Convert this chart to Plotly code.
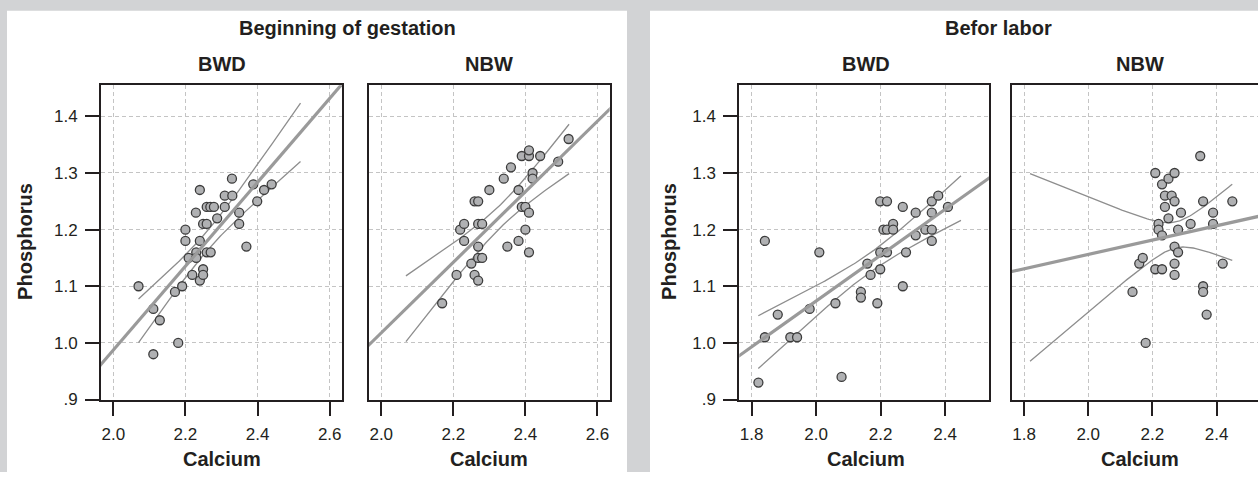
import numpy as np
import plotly.graph_objects as go

W, H = 1258, 482

# ---------------- data ----------------
# Beginning of gestation - BWD
ca_gest_bwd = [2.070, 2.111, 2.129, 2.111, 2.180, 2.171, 2.191, 2.200, 2.200, 2.209,
               2.219, 2.229, 2.240, 2.240, 2.230, 2.230, 2.240, 2.249, 2.249, 2.249,
               2.259, 2.259, 2.270, 2.259, 2.269, 2.279, 2.288, 2.309, 2.309, 2.330,
               2.329, 2.349, 2.349, 2.369, 2.388, 2.399, 2.418, 2.439]
p_gest_bwd = [1.10, 1.06, 1.04, 0.98, 1.00, 1.09, 1.10, 1.20, 1.18, 1.15,
              1.12, 1.23, 1.27, 1.18, 1.16, 1.15, 1.11, 1.13, 1.12, 1.21,
              1.21, 1.16, 1.16, 1.24, 1.24, 1.24, 1.22, 1.24, 1.26, 1.26,
              1.29, 1.23, 1.21, 1.17, 1.28, 1.25, 1.27, 1.28]

# Beginning of gestation - NBW
ca_gest_nbw = [2.169, 2.209, 2.219, 2.230, 2.230, 2.250, 2.259, 2.269, 2.269, 2.269,
               2.280, 2.269, 2.280, 2.259, 2.269, 2.300, 2.340, 2.360, 2.350, 2.381,
               2.381, 2.390, 2.400, 2.410, 2.400, 2.410, 2.390, 2.410, 2.410, 2.420,
               2.420, 2.441, 2.491, 2.520]
p_gest_nbw = [1.07, 1.12, 1.20, 1.21, 1.18, 1.14, 1.12, 1.11, 1.17, 1.15,
              1.15, 1.21, 1.21, 1.25, 1.25, 1.27, 1.29, 1.31, 1.17, 1.18,
              1.27, 1.24, 1.24, 1.23, 1.20, 1.16, 1.33, 1.33, 1.34, 1.30,
              1.29, 1.33, 1.32, 1.36]

# Before labor - BWD
ca_labor_bwd = [1.821, 1.841, 1.841, 1.881, 1.920, 1.941, 1.980, 2.010, 2.060, 2.079,
                2.139, 2.139, 2.159, 2.169, 2.190, 2.199, 2.199, 2.199, 2.220, 2.209,
                2.220, 2.220, 2.239, 2.239, 2.269, 2.269, 2.279, 2.309, 2.309, 2.339,
                2.359, 2.359, 2.359, 2.359, 2.379, 2.409]
p_labor_bwd = [0.93, 1.18, 1.01, 1.05, 1.01, 1.01, 1.06, 1.16, 1.07, 0.94,
               1.09, 1.08, 1.14, 1.12, 1.07, 1.13, 1.16, 1.25, 1.25, 1.20,
               1.20, 1.16, 1.21, 1.20, 1.24, 1.10, 1.16, 1.23, 1.19, 1.20,
               1.25, 1.23, 1.20, 1.18, 1.26, 1.24]

# Before labor - NBW
ca_labor_nbw = [2.179, 2.138, 2.159, 2.170, 2.209, 2.230, 2.209, 2.230, 2.250, 2.269,
                2.239, 2.260, 2.269, 2.239, 2.250, 2.219, 2.219, 2.230, 2.280, 2.289,
                2.319, 2.269, 2.280, 2.269, 2.269, 2.349, 2.358, 2.389, 2.389, 2.358,
                2.358, 2.369, 2.419, 2.449]
p_labor_nbw = [1.00, 1.09, 1.14, 1.15, 1.13, 1.13, 1.30, 1.28, 1.29, 1.30,
               1.26, 1.26, 1.25, 1.24, 1.22, 1.21, 1.20, 1.19, 1.20, 1.23,
               1.21, 1.17, 1.16, 1.14, 1.12, 1.33, 1.25, 1.23, 1.21, 1.10,
               1.09, 1.05, 1.14, 1.25]

# regression fits (intercept, slope) and 95% CI band parameters
fit_intercept = [-0.4948, -0.2283, 0.2651, 0.903]
fit_slope = [0.741, 0.623, 0.4044, 0.1266]
ci_center = [2.2565, 2.3331, 2.1669, 2.2734]
ci_s0 = [0.017, 0.020, 0.017, 0.023]
ci_s1 = [0.1852, 0.2058, 0.1253, 0.3606]
ci_xmin = [2.070, 2.0685, 1.8207, 1.8187]
ci_xmax = [2.519, 2.5213, 2.4496, 2.4488]

# axes
x_range_gest = [1.966, 2.634]
x_range_labor_bwd = [1.7617, 2.5365]
x_range_labor_nbw = [1.7616, 2.529]
y_range = [0.9, 1.455]
x_ticks_gest = [2.0, 2.2, 2.4, 2.6]
x_ticktext_gest = ["2.0", "2.2", "2.4", "2.6"]
x_ticks_labor = [1.8, 2.0, 2.2, 2.4]
x_ticktext_labor = ["1.8", "2.0", "2.2", "2.4"]
y_ticks = [0.9, 1.0, 1.1, 1.2, 1.3, 1.4]
y_ticktext = [".9", "1.0", "1.1", "1.2", "1.3", "1.4"]

group_titles = ["Beginning of gestation", "Befor labor"]
sub_titles = ["BWD", "NBW", "BWD", "NBW"]
x_title = "Calcium"
y_title = "Phosphorus"

# ---------------- style ----------------
INK = "#231f20"
GRID = "#c4c4c4"
PT_FILL = "#b0b1b3"
PT_LINE = "#3c3c3c"
FIT = "#9a9a9a"
CI = "#8e8e8e"
BG = "#d2d3d5"
FONT = "Liberation Sans, Arial, sans-serif"

def px(x):
    return x / W

def py(y):
    return 1 - y / H

domains_x = [[px(101), px(342)], [px(369), px(609.7)], [px(739.3), px(989)], [px(1011.7), 1.0]]
domain_y = [py(408), py(87)]
x_ranges = [x_range_gest, x_range_gest, x_range_labor_bwd, x_range_labor_nbw]
data_x = [ca_gest_bwd, ca_gest_nbw, ca_labor_bwd, ca_labor_nbw]
data_y = [p_gest_bwd, p_gest_nbw, p_labor_bwd, p_labor_nbw]

fig = go.Figure()

for i in range(4):
    xa = "x" if i == 0 else f"x{i+1}"
    ya = "y" if i == 0 else f"y{i+1}"
    # regression line across axis range
    xl = np.linspace(x_ranges[i][0] - 0.05, x_ranges[i][1] + 0.05, 50)
    yl = fit_intercept[i] + fit_slope[i] * xl
    # CI band
    xc = np.linspace(ci_xmin[i], ci_xmax[i], 120)
    yc = fit_intercept[i] + fit_slope[i] * xc
    hw = np.sqrt(ci_s0[i] ** 2 + (ci_s1[i] * (xc - ci_center[i])) ** 2)
    fig.add_trace(go.Scatter(x=xc, y=yc + hw, mode="lines", xaxis=xa, yaxis=ya,
                             line=dict(color=CI, width=1.3), showlegend=False, hoverinfo="skip"))
    fig.add_trace(go.Scatter(x=xc, y=yc - hw, mode="lines", xaxis=xa, yaxis=ya,
                             line=dict(color=CI, width=1.3), showlegend=False, hoverinfo="skip"))
    fig.add_trace(go.Scatter(x=data_x[i], y=data_y[i], mode="markers", xaxis=xa, yaxis=ya,
                             marker=dict(size=9, color=PT_FILL, line=dict(color=PT_LINE, width=1.3)),
                             showlegend=False))
    fig.add_trace(go.Scatter(x=xl, y=yl, mode="lines", xaxis=xa, yaxis=ya,
                             line=dict(color=FIT, width=3.2), showlegend=False, hoverinfo="skip"))

layout = dict(
    width=W, height=H,
    margin=dict(l=0, r=0, t=0, b=0),
    paper_bgcolor="white",
    plot_bgcolor="white",
    font=dict(family=FONT, color=INK),
    showlegend=False,
)

for i in range(4):
    xk = "xaxis" if i == 0 else f"xaxis{i+1}"
    yk = "yaxis" if i == 0 else f"yaxis{i+1}"
    ya = "y" if i == 0 else f"y{i+1}"
    xa = "x" if i == 0 else f"x{i+1}"
    gest = i < 2
    layout[xk] = dict(
        domain=domains_x[i], anchor=ya, range=x_ranges[i],
        tickvals=x_ticks_gest if gest else x_ticks_labor,
        ticktext=x_ticktext_gest if gest else x_ticktext_labor,
        showline=True, mirror=True, linecolor=INK, linewidth=2,
        ticks="outside", ticklen=14, tickwidth=1.6, tickcolor=INK,
        tickfont=dict(size=17, color=INK, family=FONT), ticklabelstandoff=4,
        showgrid=True, gridcolor=GRID, gridwidth=1, griddash="4px,3px",
        zeroline=False, fixedrange=True,
    )
    left = i in (0, 2)
    layout[yk] = dict(
        domain=domain_y, anchor=xa, range=y_range,
        tickvals=y_ticks, ticktext=y_ticktext,
        showline=True, mirror=(i != 3), linecolor=INK, linewidth=2,
        ticks="outside" if left else "", ticklen=14, tickwidth=1.6, tickcolor=INK,
        showticklabels=left,
        tickfont=dict(size=17, color=INK, family=FONT), ticklabelstandoff=4,
        showgrid=True, gridcolor=GRID, gridwidth=1, griddash="4px,3px",
        zeroline=False, fixedrange=True,
    )

shapes = [
    dict(type="rect", xref="paper", yref="paper", x0=0, x1=1, y0=py(11), y1=1,
         fillcolor=BG, line=dict(width=0), layer="below"),
    dict(type="rect", xref="paper", yref="paper", x0=0, x1=px(7), y0=0, y1=1,
         fillcolor=BG, line=dict(width=0), layer="below"),
    dict(type="rect", xref="paper", yref="paper", x0=px(627), x1=px(650), y0=0, y1=1,
         fillcolor=BG, line=dict(width=0), layer="below"),
]
layout["shapes"] = shapes

ann = []
def text(t, x, y, size=20, angle=0):
    ann.append(dict(text=f"<b>{t}</b>", x=px(x), y=py(y), xref="paper", yref="paper",
                    xanchor="center", yanchor="middle", showarrow=False, textangle=angle,
                    font=dict(size=size, color=INK, family=FONT)))

text(group_titles[0], 348, 29)
text(group_titles[1], 998, 29)
sub_x = [221.5, 489, 866, 1140]
for i in range(4):
    text(sub_titles[i], sub_x[i], 65)
    text(x_title, sub_x[i], 469)
text(y_title, 25, 247, angle=-90)
text(y_title, 669, 247, angle=-90)
layout["annotations"] = ann

fig.update_layout(**layout)
fig.write_html("out.html")
